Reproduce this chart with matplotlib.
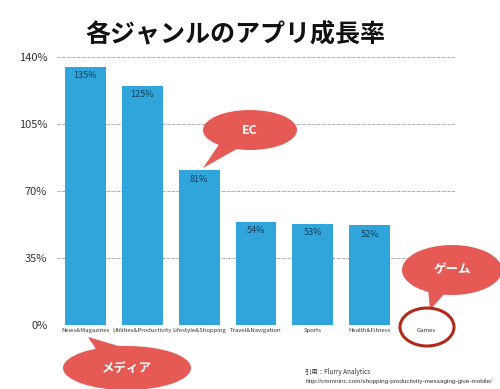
import matplotlib
matplotlib.use("Agg")
import matplotlib.pyplot as plt
from matplotlib.patches import Ellipse, Polygon

plt.rcParams['font.family'] = ['Noto Sans CJK JP', 'DejaVu Sans']

categories = ['News&Magazines', 'Utilities&Productivity', 'Lifestyle&Shopping',
              'Travel&Navigation', 'Sports', 'Health&Fitness', 'Games']
growth = [135, 125, 81, 54, 53, 52, 0]
bar_labels = ['135%', '125%', '81%', '54%', '53%', '52%', '']
yticks = [0, 35, 70, 105, 140]

bar_color = '#2fa5dc'
red = '#e55a55'

fig = plt.figure(figsize=(5, 3.89), dpi=100)
ax = fig.add_axes([0.114, 0.1645, 0.796, 0.689])

x = range(len(categories))
bars = ax.bar(x, growth, width=0.72, color=bar_color, zorder=2)
for b, lab in zip(bars, bar_labels):
    if lab:
        ax.text(b.get_x() + b.get_width() / 2, b.get_height() - 2.5, lab,
                ha='center', va='top', fontsize=6.5, color='#1c3e55', zorder=3)

ax.set_xlim(-0.5, len(categories) - 0.5)
ax.set_ylim(0, 140)
ax.set_yticks(yticks)
ax.set_yticklabels([f'{v}%' for v in yticks], fontsize=8, color='#333333')
ax.set_xticks(list(x))
ax.set_xticklabels(categories, fontsize=4.3, color='#333333')
ax.tick_params(length=0, pad=2)
ax.tick_params(axis='y', pad=7)
for s in ax.spines.values():
    s.set_visible(False)
ax.grid(axis='y', color='#999999', linestyle=(0, (3, 1, 1, 1)), linewidth=0.6, zorder=0)
ax.axhline(0, color='#999999', linestyle=(0, (3, 1, 1, 1)), linewidth=0.6, zorder=1)

fig.text(0.47, 0.91, '各ジャンルのアプリ成長率', ha='center', va='center',
         fontsize=18, fontweight='bold', color='#111111')

# overlay in pixel coordinates for the callouts
ov = fig.add_axes([0, 0, 1, 1], zorder=5)
ov.set_xlim(0, 500)
ov.set_ylim(389, 0)
ov.axis('off')
ov.patch.set_alpha(0)

def callout(cx, cy, rx, ry, tail, text):
    ov.add_patch(Polygon(tail, closed=True, color=red, lw=0))
    ov.add_patch(Ellipse((cx, cy), 2 * rx, 2 * ry, color=red, lw=0))
    ov.text(cx, cy, text, ha='center', va='center', color='white',
            fontsize=9, fontweight='bold')

callout(250, 130, 47, 20, [(222, 140), (242, 146), (203, 168)], 'EC')
callout(452, 270, 50, 25, [(428, 288), (446, 292), (430, 310)], 'ゲーム')
callout(127, 368, 64, 22, [(98, 352), (122, 347), (88, 337)], 'メディア')

ov.add_patch(Ellipse((427, 327), 54, 38, fill=False, edgecolor='#b02a1a', lw=2.2))

ov.text(305, 372, '引用：Flurry Analytics', fontsize=4.6, color='#333333', va='center')
ov.text(305, 382, 'http://cmmninc.com/shopping-productivity-messaging-give-mobile/',
        fontsize=4.6, color='#333333', va='center', family='Liberation Sans')

fig.savefig('out.png', dpi=100)
